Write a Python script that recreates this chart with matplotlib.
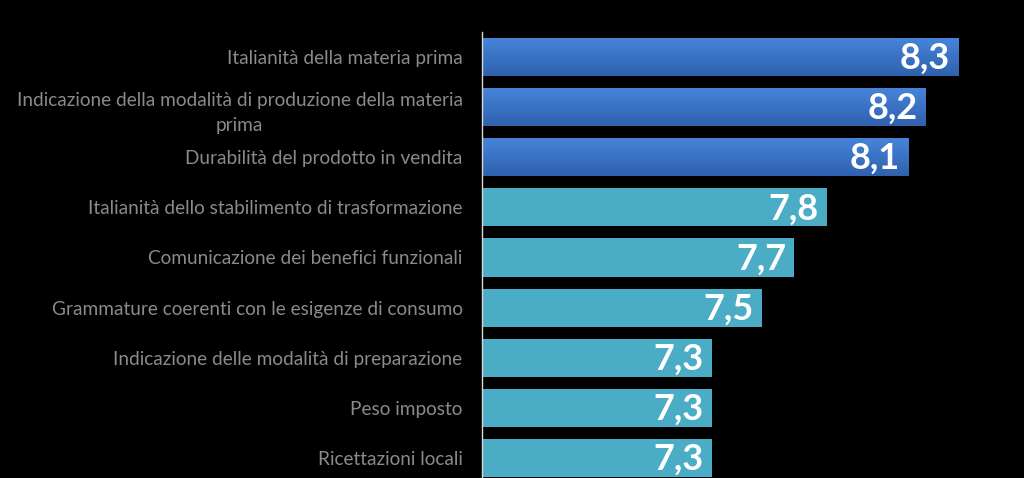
import matplotlib.pyplot as plt
import numpy as np
from matplotlib.colors import LinearSegmentedColormap

labels = ['Italianità della materia prima',
          'Indicazione della modalità di produzione della materia\nprima',
          'Durabilità del prodotto in vendita',
          'Italianità dello stabilimento di trasformazione',
          'Comunicazione dei benefici funzionali',
          'Grammature coerenti con le esigenze di consumo',
          'Indicazione delle modalità di preparazione',
          'Peso imposto',
          'Ricettazioni locali']
# bar lengths (the printed labels are rounded)
values = [8.32, 8.19, 8.12, 7.795, 7.665, 7.535, 7.335, 7.335, 7.335]
highlight = [True, True, True, False, False, False, False, False, False]

plt.rcParams['font.family'] = ['Lato', 'DejaVu Sans']

fig = plt.figure(figsize=(10.24, 4.78), dpi=100, facecolor='black')
ax = fig.add_axes([482/1024, 1 - 483/478, 1 - 482/1024, (483 - 32)/478])
ax.set_facecolor('black')

xmin, xmax = 6.415, 8.583
y = np.arange(len(values))
bars = ax.barh(y, values, height=0.76,
               color=['#3a74c8' if h else '#4bacc6' for h in highlight])

# vertical gradient on the highlighted bars
grad = np.linspace(0, 1, 64).reshape(-1, 1)
cmap = LinearSegmentedColormap.from_list('b', ['#4785da', '#2f61ad'])
for b, h in zip(bars, highlight):
    if h:
        y0 = b.get_y()
        im = ax.imshow(grad, cmap=cmap, aspect='auto',
                       extent=[xmin, b.get_width(), y0 + b.get_height(), y0],
                       zorder=b.get_zorder() + 0.1)
        im.set_clip_path(b)

ax.set_xlim(xmin, xmax)
ax.set_ylim(len(values) - 0.5, -0.5)

for yi, v in zip(y, values):
    ax.annotate(f'{v:.1f}'.replace('.', ','), xy=(v, yi), xytext=(-6, -1),
                textcoords='offset points', ha='right', va='center',
                color='white', fontsize=26, fontweight='bold', zorder=5)

ax.set_yticks(y)
ax.set_yticklabels(labels, color='#8a8a8a', fontsize=13.7,
                   multialignment='center', linespacing=1.6)
ax.tick_params(axis='y', length=0, pad=14)
ax.set_xticks([])
for s in ['top', 'right', 'bottom']:
    ax.spines[s].set_visible(False)
ax.spines['left'].set_color('#d9d9d9')
ax.spines['left'].set_linewidth(1)

fig.savefig('out.png', dpi=100, facecolor='black')
